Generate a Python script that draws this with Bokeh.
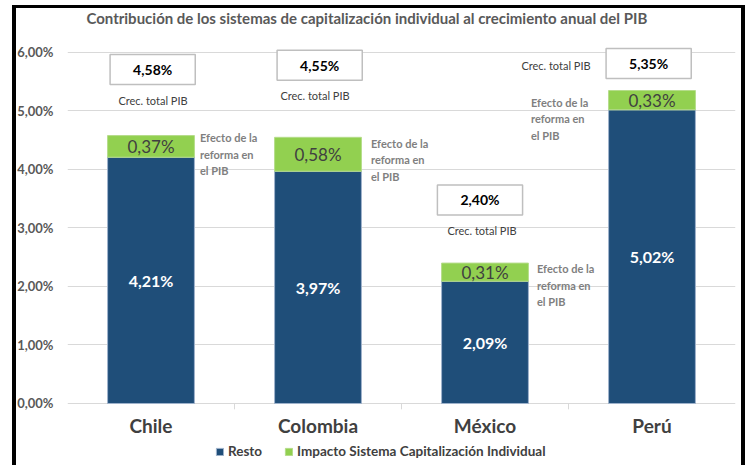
from bokeh.plotting import figure
from bokeh.models import (FactorRange, FixedTicker, ColumnDataSource, Legend, LegendItem,
                          Range1d, CustomJSTickFormatter)
from bokeh.core.properties import value
from bokeh.embed import file_html
from bokeh.resources import INLINE

# ---- data ----
countries = ["Chile", "Colombia", "México", "Perú"]
resto = [4.21, 3.97, 2.09, 5.02]
impacto = [0.37, 0.58, 0.31, 0.33]
totals = [4.58, 4.55, 2.40, 5.35]
y_ticks = [0, 1, 2, 3, 4, 5, 6]
series_names = ["Resto", "Impacto Sistema Capitalización Individual"]
title_text = "Contribución de los sistemas de capitalización individual al crecimiento anual del PIB"
total_caption = "Crec. total PIB"
effect_caption = "Efecto de la\nreforma en\nel PIB"


def pct(v):
    return f"{v:.2f}".replace(".", ",") + "%"


# ---- layout of callouts (offsets, not data) ----
box_dy = [1.13, 1.23, 1.08, 0.46]        # data units above total
box_dx = [0.01, 0.01, -0.03, -0.02]      # category units
cap_dy = [0.60, 0.72, 0.56, 0.43]
cap_dx = [2, -3, -3, -96]                # px
eff_dy = [-0.32, -0.38, -0.38, -0.48]
eff_dx = [49, 53, 52, -121]              # px
Y_BOTTOM = -1.06                         # room below the axis for category names + legend
Y_TOP = 6.752                            # room above the grid for the title
CAT_LABEL_DY = 22                        # px below the zero line
TICK_LEN = 0.1                           # separator tick length (data units)
TITLE_DX = -64.6                         # px from first category centre
TITLE_DY = -34                           # px above the top gridline

FONT = "Lato"
NAVY = "#1F4E79"
GREEN = "#92D050"

src = ColumnDataSource(dict(
    country=countries,
    resto=resto,
    impacto=impacto,
    ry=[r / 2 for r in resto],
    iy=[r + i / 2 for r, i in zip(resto, impacto)],
    rlab=[pct(r) for r in resto],
    ilab=[pct(i) for i in impacto],
    bx=[(c, d) for c, d in zip(countries, box_dx)],
    by=[t + d for t, d in zip(totals, box_dy)],
    tlab=[pct(t) for t in totals],
    cy=[t + d for t, d in zip(totals, cap_dy)],
    cdx=cap_dx,
    ey=[t + d for t, d in zip(totals, eff_dy)],
    edx=eff_dx,
    cap=[total_caption] * len(countries),
    eff=[effect_caption] * len(countries),
    zero=[0] * len(countries),
))

p = figure(width=748, height=465,
           x_range=FactorRange(*countries, range_padding=0),
           y_range=Range1d(Y_BOTTOM, Y_TOP),
           output_backend="svg", toolbar_location=None,
           min_border_left=67, min_border_right=13,
           min_border_top=8, min_border_bottom=0)

p.outline_line_color = None
p.background_fill_color = "white"
p.border_fill_color = None

# outer black frame drawn as the element's background (behind the transparent border area)
p.styles = {
    "background-color": "white",
    "background-image": "linear-gradient(#000,#000), linear-gradient(#000,#000), linear-gradient(#000,#000)",
    "background-size": "4px 100%, 733px 3px, 4px 100%",
    "background-position": "12px 5px, 12px 5px, 741px 5px",
    "background-repeat": "no-repeat",
}

# title (drawn above the top gridline)
p.text(x=[countries[0]], y=[y_ticks[-1]], x_offset=TITLE_DX, y_offset=TITLE_DY, text=[title_text],
       text_align="left", text_baseline="middle", text_font=value(FONT),
       text_font_style="bold", text_font_size="15px", text_color="#595959")

# bars
rs = p.vbar_stack(["resto", "impacto"], x="country", width=0.52, source=src,
                  fill_color=[NAVY, GREEN], line_color=["#9fb3cc", "#b5dc8a"], line_width=1)

# value labels
p.text(x="country", y="ry", text="rlab", source=src, text_align="center", text_baseline="middle",
       text_font=value(FONT), text_font_style="bold", text_font_size="16px", text_color="white")
p.text(x="country", y="iy", text="ilab", source=src, text_align="center", text_baseline="middle",
       text_font=value(FONT), text_font_size="17px", text_color="#404040")

# total boxes
p.rect(x="bx", y="by", width=0.51, height=30, height_units="screen", source=src,
       fill_color="white", line_color="#bfbfbf", line_width=1.5)
p.text(x="bx", y="by", text="tlab", source=src, text_align="center", text_baseline="middle",
       text_font=value(FONT), text_font_style="bold", text_font_size="14px", text_color="black")

# captions
p.text(x="country", y="cy", x_offset="cdx", text="cap", source=src, text_align="center",
       text_baseline="middle", text_font=value(FONT), text_font_size="11px", text_color="#404040")
p.text(x="country", y="ey", x_offset="edx", text="eff", source=src, text_align="left",
       text_baseline="middle", text_font=value(FONT), text_font_style="bold",
       text_font_size="11px", text_color="#7f7f7f", text_line_height=1.27)

# category names under the zero line
p.text(x="country", y="zero", y_offset=CAT_LABEL_DY, text="country", source=src,
       text_align="center", text_baseline="middle", text_font=value(FONT),
       text_font_style="bold", text_font_size="19px", text_color="#404040")

# small separator ticks between categories below the zero line
seps = [(c, 0.5) for c in countries[:-1]]
p.segment(x0=seps, x1=seps, y0=[0] * len(seps), y1=[-TICK_LEN] * len(seps),
          line_color="#d9d9d9", line_width=1)

# axes
p.xaxis.visible = False
p.yaxis.ticker = FixedTicker(ticks=y_ticks)
p.yaxis.formatter = CustomJSTickFormatter(code="return tick.toFixed(2).replace('.', ',') + '%';")
p.yaxis.axis_line_color = None
p.yaxis.major_tick_line_color = None
p.yaxis.minor_tick_line_color = None
p.yaxis.major_label_standoff = 8
p.yaxis.major_label_text_font = FONT
p.yaxis.major_label_text_font_size = "13px"
p.yaxis.major_label_text_font_style = "bold"
p.yaxis.major_label_text_color = "#595959"

p.ygrid.grid_line_color = "#d9d9d9"
p.xgrid.grid_line_color = None

# legend
legend = Legend(items=[LegendItem(label=series_names[0], renderers=[rs[0]]),
                       LegendItem(label=series_names[1], renderers=[rs[1]])],
                orientation="horizontal", location=(148, 6),
                glyph_width=9, glyph_height=9, label_standoff=4, spacing=22,
                label_height=13, padding=0, margin=0, border_line_color=None,
                background_fill_alpha=0,
                label_text_font=FONT, label_text_font_size="13.5px",
                label_text_font_style="bold", label_text_color="#404040")
p.add_layout(legend)

open("out.html", "w").write(file_html(p, INLINE))
